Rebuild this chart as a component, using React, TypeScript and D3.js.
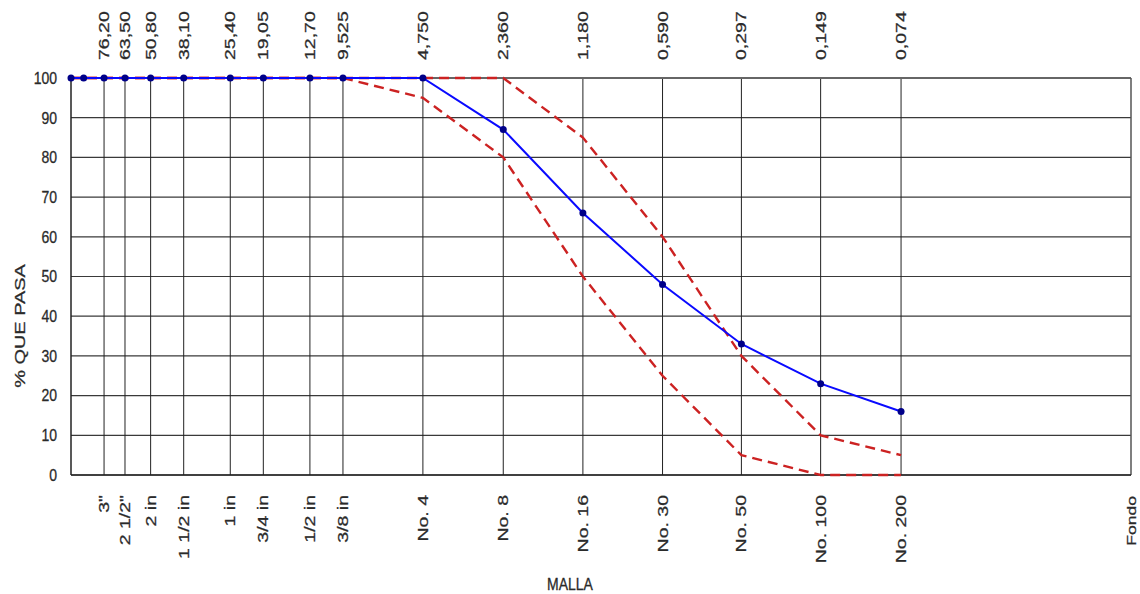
import React from "react";
import * as d3 from "d3";

// Sieve openings (mm) with labels
const sieveSizes = [76.2, 63.5, 50.8, 38.1, 25.4, 19.05, 12.7, 9.525, 4.75, 2.36, 1.18, 0.59, 0.297, 0.149, 0.074];
const sizeLabels = ["76,20", "63,50", "50,80", "38,10", "25,40", "19,05", "12,70", "9,525", "4,750", "2,360", "1,180", "0,590", "0,297", "0,149", "0,074"];
const meshLabels = ['3"', '2 1/2"', "2 in", "1 1/2 in", "1 in", "3/4 in", "1/2 in", "3/8 in", "No. 4", "No. 8", "No. 16", "No. 30", "No. 50", "No. 100", "No. 200"];
const panSize = 0.01;
const panLabel = "Fondo";
const yTicks = [0, 10, 20, 30, 40, 50, 60, 70, 80, 90, 100];

// Sample gradation (blue)
const sampleSizes = [101.6, 91, 76.2, 63.5, 50.8, 38.1, 25.4, 19.05, 12.7, 9.525, 4.75, 2.36, 1.18, 0.59, 0.297, 0.149, 0.074];
const samplePassing = [100, 100, 100, 100, 100, 100, 100, 100, 100, 100, 100, 87, 66, 48, 33, 23, 16];

// Specification limits (red dashed)
const upperSizes = [101.6, 2.36, 1.18, 0.59, 0.297, 0.149, 0.074];
const upperPassing = [100, 100, 85, 60, 30, 10, 5];
const lowerSizes = [101.6, 9.525, 4.75, 2.36, 1.18, 0.59, 0.297, 0.149, 0.074];
const lowerPassing = [100, 100, 95, 80, 50, 25, 5, 0, 0];

const W = 1140;
const H = 594;
const L = 71, R = 1131, T = 78, B = 475;
const FONT = "'Liberation Sans', Arial, sans-serif";
const TXT = "#2a2a2a";

export default function App() {
  const x = d3.scaleLog().domain([101.6, panSize]).range([L, R]);
  const y = d3.scaleLinear().domain([0, 100]).range([B, T]);

  const toPts = (xs: number[], ys: number[]) => xs.map((v, i) => [v, ys[i]] as [number, number]);
  const line = d3.line<[number, number]>().x((d) => x(d[0])).y((d) => y(d[1]));

  const sample = toPts(sampleSizes, samplePassing);
  const upper = toPts(upperSizes, upperPassing);
  const lower = toPts(lowerSizes, lowerPassing);

  const rot = (px: number, py: number, s = 1.3) => `translate(${px},${py}) scale(1,${s}) rotate(-90)`;

  return (
    <svg width={W} height={H} style={{ position: "absolute", left: 0, top: 0, background: "#fff" }} fontFamily={FONT}>
      <rect x={0} y={0} width={W} height={H} fill="#fff" />
      {/* horizontal grid */}
      {yTicks.map((t) => (
        <line key={"h" + t} x1={L} x2={R} y1={y(t)} y2={y(t)} stroke="#3a3a3a" strokeWidth={1.2} />
      ))}
      {/* vertical grid */}
      {sieveSizes.map((s) => (
        <line key={"v" + s} x1={x(s)} x2={x(s)} y1={T} y2={B} stroke="#222" strokeWidth={1} />
      ))}
      {/* frame */}
      <line x1={L} x2={R} y1={T} y2={T} stroke="#666" strokeWidth={2} />
      <line x1={R} x2={R} y1={T} y2={B} stroke="#555" strokeWidth={1.5} />
      <line x1={L} x2={L} y1={T} y2={B} stroke="#222" strokeWidth={1.5} />
      <line x1={L} x2={R} y1={B} y2={B} stroke="#222" strokeWidth={1.5} />

      <g fill={TXT} stroke={TXT} strokeWidth={0.25}>
        {/* y tick labels */}
        {yTicks.map((t) => (
          <text key={"yl" + t} transform={`translate(57,${y(t)}) scale(1,1.15)`} textAnchor="end" dy="0.36em" fontSize={14}>
            {t}
          </text>
        ))}

        {/* top size labels */}
        {sieveSizes.map((s, i) => (
          <text key={"tl" + i} transform={rot(x(s), 60)} textAnchor="start" dy="0.34em" fontSize={15}>
            {sizeLabels[i]}
          </text>
        ))}

        {/* bottom mesh labels */}
        {sieveSizes.map((s, i) => (
          <text key={"bl" + i} transform={rot(x(s), 495)} textAnchor="end" dy="0.34em" fontSize={15}>
            {meshLabels[i]}
          </text>
        ))}
        <text transform={rot(x(panSize), 496)} textAnchor="end" dy="0.34em" fontSize={13.5}>
          {panLabel}
        </text>

        {/* axis titles */}
        <text transform={rot(20, 326, 1.33)} textAnchor="middle" dy="0.34em" fontSize={15}>
          % QUE PASA
        </text>
        <text transform={`translate(570,590) scale(1,1.2)`} textAnchor="middle" fontSize={14}>
          MALLA
        </text>
      </g>

      {/* spec limits */}
      <path d={line(upper) || ""} fill="none" stroke="#cc2222" strokeWidth={2.4} strokeDasharray="10,6" />
      <path d={line(lower) || ""} fill="none" stroke="#cc2222" strokeWidth={2.4} strokeDasharray="10,6" />

      {/* sample */}
      <path d={line(sample) || ""} fill="none" stroke="#0a0aff" strokeWidth={2} />
      {sample.map((d, i) => (
        <circle key={"p" + i} cx={x(d[0])} cy={y(d[1])} r={3.5} fill="#000088" />
      ))}
    </svg>
  );
}
